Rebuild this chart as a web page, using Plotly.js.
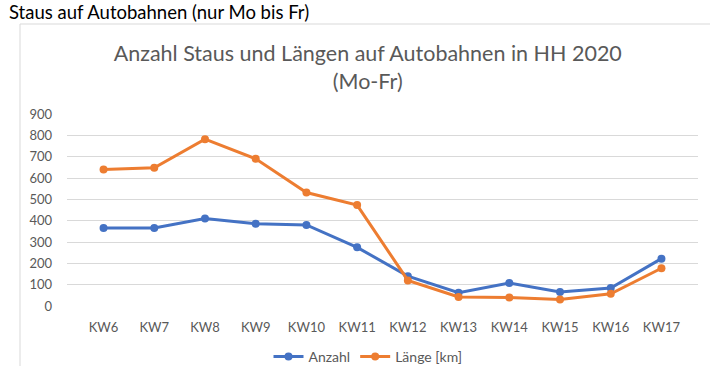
<!DOCTYPE html>
<html><head><meta charset="utf-8">
<script src="https://cdn.plot.ly/plotly-3.0.1.min.js"></script>
<style>html,body{margin:0;padding:0;background:#fff;}#chart{width:710px;height:366px;}</style>
</head><body><div id="chart"></div>
<script>
const weeks = ["KW6","KW7","KW8","KW9","KW10","KW11","KW12","KW13","KW14","KW15","KW16","KW17"];
const anzahl = [366, 366, 410, 386, 380, 275, 140, 62, 108, 66, 84, 222];
const laenge = [640, 648, 782, 690, 532, 473, 120, 42, 40, 30, 57, 177];
const yTicks = [0,100,200,300,400,500,600,700,800,900];

const L = 67, R = 698, T = 114, B = 306, W = 710, H = 366;
const px = x => (x - L) / (R - L);
const py = y => (B - y) / (B - T);
const cy = y => 1 - y / H;
const font = "Lato, 'Open Sans', sans-serif";

const traces = [
  {x: weeks, y: anzahl, name: "Anzahl", type: "scatter", mode: "lines+markers",
   line: {color: "#4472C4", width: 3}, marker: {color: "#4472C4", size: 8}},
  {x: weeks, y: laenge, name: "Länge [km]", type: "scatter", mode: "lines+markers",
   line: {color: "#ED7D31", width: 3}, marker: {color: "#ED7D31", size: 8}}
];

const layout = {
  width: W, height: H,
  margin: {l: L, r: W - R, t: T, b: H - B, autoexpand: false},
  paper_bgcolor: "#fff", plot_bgcolor: "#fff",
  font: {family: font, color: "#595959", size: 13},
  title: {text: "Anzahl Staus und Längen auf Autobahnen in HH 2020<br>(Mo-Fr)",
          font: {family: font, size: 21.5, color: "#595959"},
          x: 0.518, xanchor: "center", xref: "container",
          y: cy(61), yanchor: "top", yref: "container"},
  xaxis: {type: "category", showgrid: false, zeroline: false, showline: false,
          ticks: "", tickfont: {size: 13, color: "#595959"}, ticklabelstandoff: 12,
          fixedrange: true, automargin: false},
  yaxis: {range: [0, 900], tickvals: yTicks, showgrid: true, gridcolor: "#D9D9D9",
          gridwidth: 1, zeroline: false, showline: false, ticks: "",
          tickfont: {size: 13, color: "#595959"}, ticklabelstandoff: 14, fixedrange: true,
          automargin: false},
  showlegend: true,
  legend: {orientation: "h", x: px(368), xanchor: "center", y: cy(357), yanchor: "middle",
           yref: "container",
           font: {size: 14, color: "#595959"}, itemwidth: 30, tracegroupgap: 0,
           bgcolor: "rgba(0,0,0,0)"},
  shapes: [
    {type: "line", xref: "paper", yref: "paper", x0: px(20), x1: px(712), y0: py(24), y1: py(24),
     line: {color: "#D9D9D9", width: 1}},
    {type: "line", xref: "paper", yref: "paper", x0: px(20), x1: px(20), y0: py(24), y1: py(370),
     line: {color: "#D9D9D9", width: 1}}
  ],
  annotations: [
    {text: "Staus auf Autobahnen (nur Mo bis Fr)", xref: "paper", yref: "paper",
     x: px(7), y: py(12), xanchor: "left", yanchor: "middle", showarrow: false,
     font: {family: font, size: 18.5, color: "#000"}}
  ]
};

Plotly.newPlot("chart", traces, layout, {displayModeBar: false, staticPlot: true});
</script></body></html>
